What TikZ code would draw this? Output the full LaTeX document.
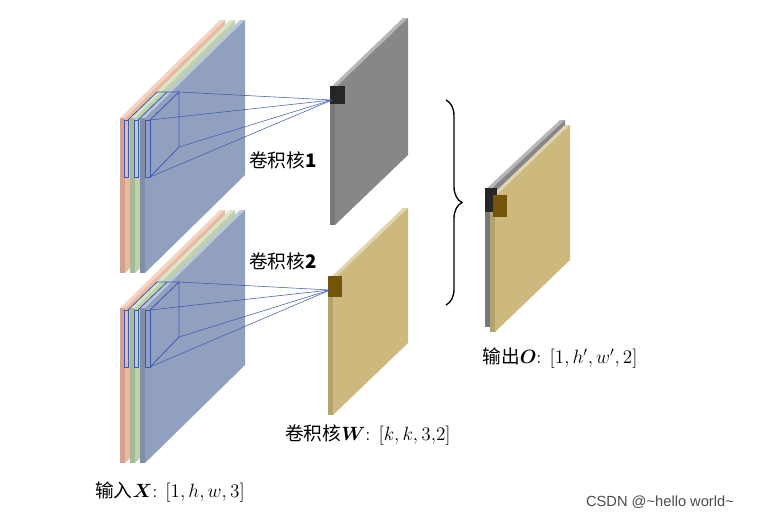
\documentclass[tikz,border=0pt]{standalone}
\usepackage{amsmath}
\usepackage{fontspec}
\newfontfamily\cjk{Noto Sans CJK SC}
\setsansfont{Liberation Sans}
\usetikzlibrary{arrows,decorations.pathreplacing}
\definecolor{orangeA}{RGB}{235,185,160}
\definecolor{greenA}{RGB}{190,210,170}
\definecolor{blueA}{RGB}{145,160,190}
\definecolor{grayA}{RGB}{135,135,135}
\definecolor{yellowA}{RGB}{205,185,125}
\definecolor{brownA}{RGB}{115,85,10}
\definecolor{kernblue}{RGB}{60,90,180}
% slab: x, y, height, width, rise, colour
\newcommand{\slab}[6]{%
  \fill[#6!88!black] (#1,#2) -- ++(5,0) -- ++(0,#3) -- ++(-5,0) -- cycle;
  \fill[#6!60!white] (#1,#2) -- ++(#4,-#5) -- ++(5,0) -- ++(-#4,#5) -- cycle;
  \fill[#6] (#1+5,#2) -- ++(#4,-#5) -- ++(0,#3) -- ++(-#4,#5) -- cycle;}
\begin{document}
\begin{tikzpicture}[x=0.75pt,y=-0.75pt,>=stealth',font=\fontsize{14}{16}\selectfont]
  \tikzstyle{lbl}=[inner sep=1pt]
  \tikzstyle{kern}=[draw=kernblue,line width=0.6pt]
  \useasboundingbox (0,0) rectangle (767,519);
  % input stacks
  \foreach \yy in {0,190} {
    \slab{120}{118+\yy}{155}{100}{98}{orangeA}
    \slab{130}{118+\yy}{155}{100}{98}{greenA}
    \slab{140}{118+\yy}{155}{100}{98}{blueA}
    \draw[kern] (124,120+\yy) rectangle (128,177+\yy);
    \draw[kern] (134,120+\yy) rectangle (138,177+\yy);
    \draw[kern] (145,120+\yy) rectangle (150,177+\yy);
    \draw[kern] (150,120+\yy) -- (179,92+\yy) -- (179,147+\yy) -- (150,177+\yy);
    \draw[kern] (128,120+\yy) -- (157,92+\yy) -- (179,92+\yy);
    \draw[kern] (138,120+\yy) -- (167,92+\yy);
  }
  % feature maps
  \slab{330}{88}{137}{73}{70}{grayA}
  \slab{328}{280}{135}{75}{72}{yellowA}
  \fill[black!85] (330,86) rectangle (345,104);
  \fill[brownA] (328,276) rectangle (342,297);
  \coordinate (t1) at (332,100);
  \coordinate (t2) at (330,290);
  \foreach \yy/\tt in {0/t1,190/t2} {
    \draw[kern,line width=0.4pt] (179,92+\yy) -- (\tt);
    \draw[kern,line width=0.4pt] (179,147+\yy) -- (\tt);
    \draw[kern,line width=0.4pt] (150,120+\yy) -- (\tt);
    \draw[kern,line width=0.4pt] (150,177+\yy) -- (\tt);
  }
  % output
  \slab{485}{190}{137}{75}{70}{grayA}
  \slab{490}{197}{135}{75}{72}{yellowA}
  \fill[black!85] (485,188) rectangle (497,212);
  \fill[brownA] (493,195) rectangle (507,217);
  \coordinate (b1) at (446,100);
  \coordinate (b2) at (446,305);
  \draw[decorate,decoration={brace,amplitude=12pt},line width=1pt] (b1) -- (b2);
  % labels
  \node[lbl] (k1) at (283,160) {\cjk 卷积核\textbf{1}};
  \node[lbl] (k2) at (283,261) {\cjk 卷积核\textbf{2}};
  \node[lbl] (w) at (368,435) {{\cjk 卷积核}$\boldsymbol{W}$: $[k,k,3{,}2]$};
  \node[lbl] (x) at (170,492) {{\cjk 输入}$\boldsymbol{X}$: $[1,h,w,3]$};
  \node[lbl] (o) at (560,358) {{\cjk 输出}$\boldsymbol{O}$: $[1,h',w',2]$};
  \node[lbl,text=black!70,font=\sffamily\fontsize{11}{13}\selectfont] (wm) at (660,502) {CSDN @\textasciitilde hello world\textasciitilde};
\end{tikzpicture}
\end{document}
